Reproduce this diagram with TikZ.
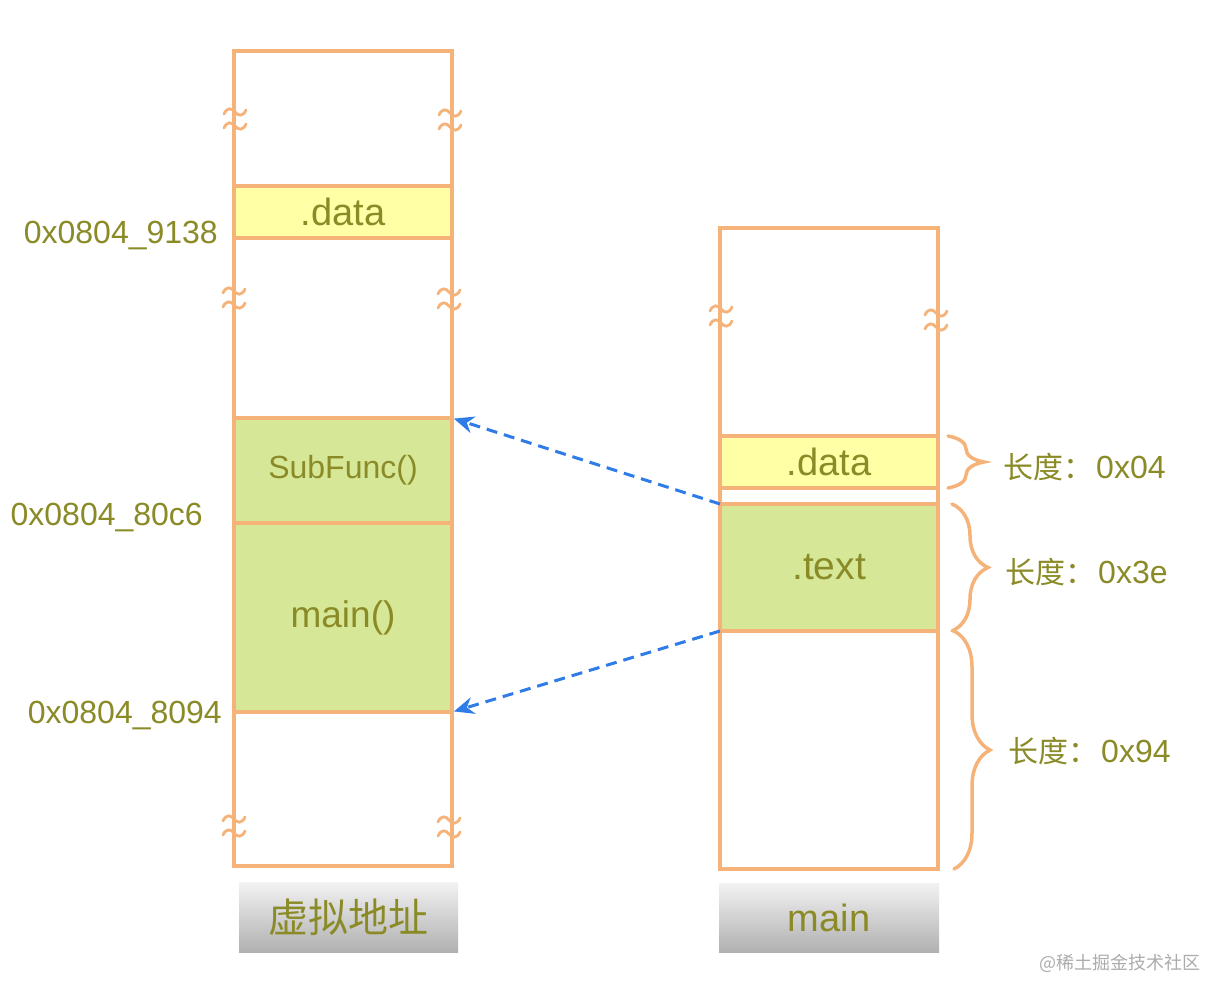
\documentclass[tikz,border=0pt]{standalone}
\usepackage{fontspec}
\setmainfont{Liberation Sans}
\newfontfamily\cjk{Noto Sans CJK SC}
\usetikzlibrary{decorations.pathreplacing,arrows.meta}
\definecolor{orng}{HTML}{F5B37A}
\definecolor{yel}{HTML}{FFFFA6}
\definecolor{grn}{HTML}{D6E898}
\definecolor{olivetxt}{HTML}{8A8B27}
\definecolor{arrblue}{HTML}{2F7BE8}
\tikzset{
  colbox/.style={draw=orng, line width=3.5pt, fill=white, inner sep=0pt, outer sep=0pt, anchor=north west, minimum width=218pt},
  band/.style={draw=orng, line width=3.5pt, inner sep=0pt, outer sep=0pt, anchor=north west, minimum width=218pt, text=olivetxt},
  addr/.style={text=olivetxt, font=\fontsize{32}{38}\selectfont, anchor=east, inner sep=0pt},
  lenlbl/.style={text=olivetxt, font=\fontsize{32}{38}\selectfont, anchor=west, inner sep=0pt},
  brkline/.style={draw=orng, line width=2.8pt, line cap=round},
  ptr/.style={draw=arrblue, line width=3pt, dash pattern=on 11pt off 7pt, shorten >=2pt, -{Stealth[length=20pt,width=17pt]}},
  brc/.style={draw=orng, line width=3.5pt, line cap=round, decorate, decoration={brace, amplitude=36pt}},
  tagbox/.style={inner sep=0pt, outer sep=0pt, anchor=north west, top color=gray!10, bottom color=gray!62, text=olivetxt},
  tilde/.pic={
    \draw[brkline] (-11,-5) .. controls (-8,-12) and (-3,-11) .. (0,-7) .. controls (3,-3) and (8,-2) .. (11,-9);
    \draw[brkline] (-11,9) .. controls (-8,2) and (-3,3) .. (0,7) .. controls (3,11) and (8,12) .. (11,5);
  }
}
\newcommand{\lenword}{{\cjk\fontsize{30}{36}\selectfont 长度：}\hspace{3pt}}
\begin{document}
\begin{tikzpicture}[x=1pt,y=-1pt]
\useasboundingbox[fill=white] (0,0) rectangle (1228,1000);

% left column
\node[colbox, minimum height=815pt] (lcol) at (234,51) {};
\node[band, fill=yel, minimum height=52pt, font=\fontsize{38}{42}\selectfont] (ldata) at (234,186) {.data};
\node[band, fill=grn, minimum height=105pt, font=\fontsize{32}{36}\selectfont] (lsub) at (234,418) {SubFunc()};
\node[band, fill=grn, minimum height=189pt, font=\fontsize{37}{42}\selectfont] (lmain) at (234,523) {main()};

% right column
\node[colbox, minimum height=641pt] (rcol) at (720,228) {};
\node[band, fill=yel, minimum height=52pt, font=\fontsize{38}{42}\selectfont] (rdata) at (720,436) {.data};
\node[band, fill=grn, minimum height=127pt, font=\fontsize{39}{44}\selectfont] (rtext) at (720,504) {.text};

% break marks
\pic at (235,119) {tilde};
\pic at (450,120) {tilde};
\pic at (234,298) {tilde};
\pic at (449,299) {tilde};
\pic at (234,826) {tilde};
\pic at (449,827) {tilde};
\pic at (721,316) {tilde};
\pic at (936,320) {tilde};

% address labels
\node[addr] (a1) at (218,236) {0x0804\_9138};
\node[addr] (a2) at (203,518) {0x0804\_80c6};
\node[addr] (a3) at (222,716) {0x0804\_8094};

% pointers
\draw[ptr] (rtext.north west) -- (lsub.north east);
\draw[ptr] (rtext.south west) -- (lmain.south east);

% braces
\coordinate (b1s) at ([xshift=10pt]rdata.north east);
\coordinate (b1e) at ([xshift=10pt]rdata.south east);
\coordinate (b2s) at ([xshift=14pt]rtext.north east);
\coordinate (b2e) at ([xshift=14pt]rtext.south east);
\coordinate (b3s) at ([xshift=16pt]rtext.south east);
\coordinate (b3e) at ([xshift=16pt]rcol.south east);
\draw[brc] (b1s) -- (b1e);
\draw[brc] (b2s) -- (b2e);
\draw[brc] (b3s) -- (b3e);
\node[lenlbl] (l1) at (1003,467) {\lenword 0x04};
\node[lenlbl] (l2) at (1005,572) {\lenword 0x3e};
\node[lenlbl] (l3) at (1008,751) {\lenword 0x94};

% captions
\node[tagbox, minimum width=219pt, minimum height=70pt, font=\cjk\fontsize{40}{46}\selectfont] (ltag) at (239,882) {虚拟地址};
\node[tagbox, minimum width=220pt, minimum height=69pt, font=\fontsize{38}{44}\selectfont] (rtag) at (719,883) {main};

% watermark
\node[anchor=east, inner sep=0pt, text=gray!65, font=\cjk\fontsize{18}{22}\selectfont] (wm) at (1201,963) {@稀土掘金技术社区};
\end{tikzpicture}
\end{document}
